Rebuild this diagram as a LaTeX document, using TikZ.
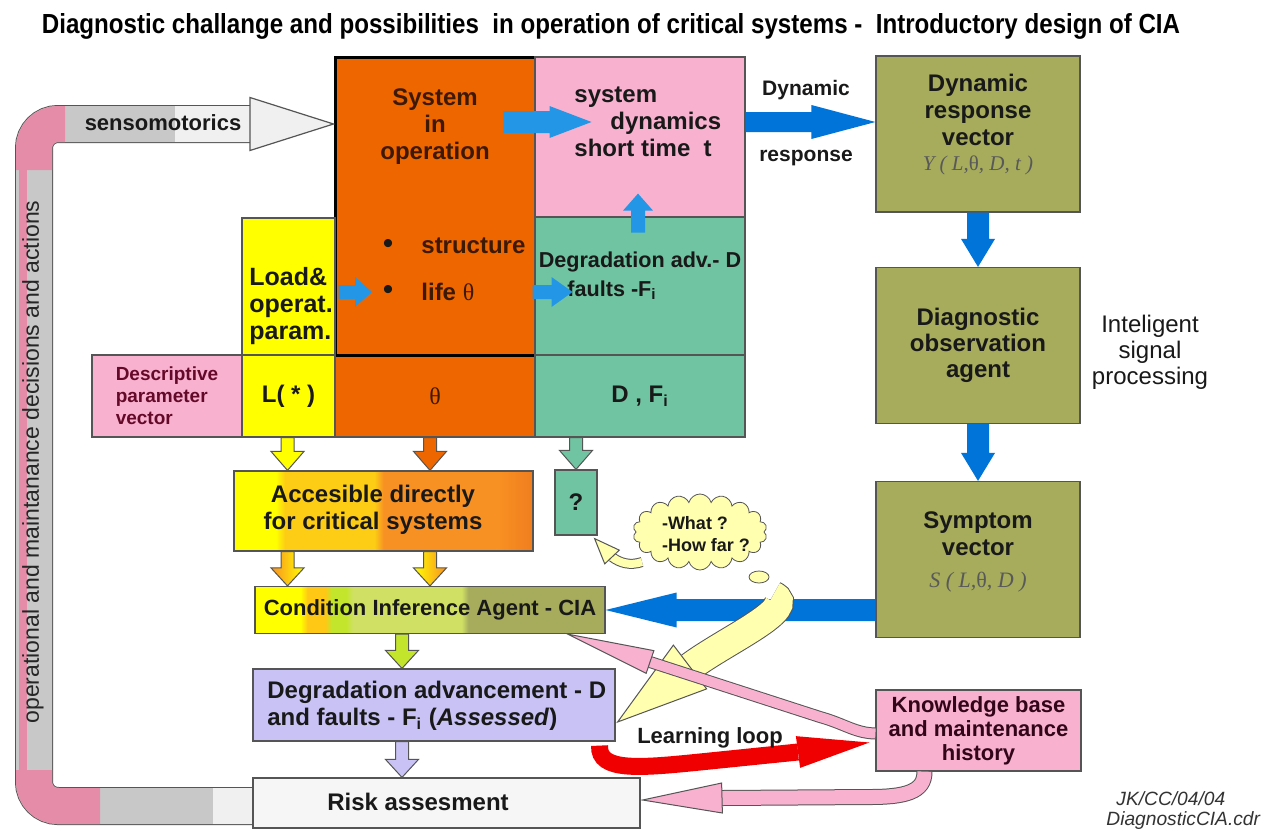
\documentclass[tikz,border=0pt]{standalone}
\usepackage{fontspec}
\setmainfont{Liberation Sans}
\newfontfamily\timesf{Liberation Serif}
\usepackage{graphicx}
\usetikzlibrary{calc,shapes.geometric,shapes.symbols}

\definecolor{sysorange}{RGB}{238,102,0}
\definecolor{sysbrown}{RGB}{60,25,0}
\definecolor{dynpink}{RGB}{248,178,208}
\definecolor{degteal}{RGB}{112,196,162}
\definecolor{loadyellow}{RGB}{255,255,0}
\definecolor{agentolive}{RGB}{166,172,92}
\definecolor{arrowblue}{RGB}{0,116,216}
\definecolor{lightblue}{RGB}{36,150,230}
\definecolor{assesslav}{RGB}{200,194,245}
\definecolor{riskgray}{RGB}{246,246,246}
\definecolor{cloudyellow}{RGB}{255,255,175}
\definecolor{loopred}{RGB}{240,0,0}
\definecolor{bandgray}{RGB}{200,200,200}
\definecolor{bandpink}{RGB}{228,140,168}
\definecolor{bandlight}{RGB}{240,240,240}
\definecolor{edgegray}{RGB}{85,85,85}
\definecolor{maroon}{RGB}{100,10,40}
\definecolor{kbtext}{RGB}{50,5,25}
\definecolor{accgold}{RGB}{252,205,20}
\definecolor{accorange}{RGB}{248,145,35}
\definecolor{accdeep}{RGB}{240,125,30}
\definecolor{ciaamber}{RGB}{255,200,20}
\definecolor{ciagreen}{RGB}{195,230,45}
\definecolor{cialime}{RGB}{208,224,100}

% shadings: the path covers 25bp..75bp
\pgfdeclarehorizontalshading{accshade}{100bp}{color(0bp)=(loadyellow); color(32bp)=(loadyellow); color(33.5bp)=(accgold); color(48.5bp)=(accgold); color(50bp)=(accorange); color(69bp)=(accorange); color(75bp)=(accdeep); color(100bp)=(accdeep)}
\pgfdeclarehorizontalshading{ciashade}{100bp}{color(0bp)=(loadyellow); color(31.5bp)=(loadyellow); color(32.5bp)=(ciaamber); color(35bp)=(ciaamber); color(36bp)=(ciagreen); color(38bp)=(ciagreen); color(39bp)=(cialime); color(54.5bp)=(cialime); color(55.5bp)=(agentolive); color(100bp)=(agentolive)}

% fat arrow: [style]{from}{tip}{shaft half width}{head half width}{head length}
\newcommand{\fatarrow}[6][]{%
  \coordinate (fa-s) at (#2);
  \coordinate (fa-t) at (#3);
  \coordinate (fa-h) at ($(fa-t)!#6!(fa-s)$);
  \path[#1] ($(fa-s)!#4!90:(fa-t)$) -- ($(fa-h)!#4!90:(fa-t)$) -- ($(fa-h)!#5!90:(fa-t)$)
    -- (fa-t) -- ($(fa-h)!#5!-90:(fa-t)$) -- ($(fa-h)!#4!-90:(fa-t)$) -- ($(fa-s)!#4!-90:(fa-t)$) -- cycle;}
% arrow head only: [style]{base}{tip}{half width}
\newcommand{\fathead}[4][]{%
  \coordinate (fh-b) at (#2);
  \coordinate (fh-t) at (#3);
  \path[#1] ($(fh-b)!#4!90:(fh-t)$) -- (fh-t) -- ($(fh-b)!#4!-90:(fh-t)$) -- cycle;}

\tikzset{
  box/.style={draw=edgegray, line width=0.6pt, inner sep=0pt, align=center,
    font=\bfseries\fontsize{12}{13}\selectfont, text=black!90},
  greenbox/.style={box, fill=agentolive, minimum width=102pt, minimum height=78pt},
  txt/.style={inner sep=0pt, align=center, font=\bfseries\fontsize{12}{13.5}\selectfont, text=black!90},
  formula/.style={inner sep=0pt, text=black!65, font=\timesf\itshape\fontsize{10.5}{12}\selectfont},
  outarrow/.style={draw=edgegray, line width=0.5pt},
  band/.style={double distance=#1, draw=edgegray, line width=0.5pt},
}

\begin{document}
\begin{tikzpicture}[x=0.5pt, y=-0.5pt]
\fill[white] (0,0) rectangle (1268,830);
\useasboundingbox (0,0) rectangle (1268,830);

\node[inner sep=0pt, anchor=base] (title) at (611,33)
  {\resizebox{569pt}{10pt}{\bfseries Diagnostic challange and possibilities\ \ in operation of critical systems -\ \ Introductory design of CIA}};

% central block
\node[box, fill=sysorange, minimum width=100pt, minimum height=41pt, text=sysbrown] (thetarow) at (435,396) {\timesf\mdseries θ};
\node[box, fill=sysorange, draw=black, line width=1.5pt, minimum width=100pt, minimum height=149pt] (sysop) at (435,206) {};
\node[box, fill=dynpink, minimum width=105pt, minimum height=80pt] (sysdyn) at (640,137) {};
\node[box, fill=degteal, minimum width=105pt, minimum height=69pt] (degr) at (640,286) {};
\node[box, fill=degteal, minimum width=105pt, minimum height=41pt] (dfrow) at (640,396) {D , F\textsubscript{i}};
\node[box, fill=loadyellow, minimum width=46.5pt, minimum height=68.5pt] (load) at (288.5,286.5) {};
\node[box, fill=loadyellow, minimum width=46.5pt, minimum height=41pt] (lrow) at (288.5,396) {L( * )};
\node[box, fill=dynpink, minimum width=75pt, minimum height=41pt, align=left, text=maroon,
  font=\bfseries\fontsize{9.5}{11}\selectfont] (descr) at (167,396) {Descriptive\\parameter\\vector};

\node[txt, text=sysbrown] (sysoptxt) at (435,127) {System\\in\\operation};
\node[txt, font=\fontsize{15}{15}\selectfont] (bul1) at (388,246) {\textbullet};
\node[txt, font=\fontsize{15}{15}\selectfont] (bul2) at (388,292) {\textbullet};
\node[txt, anchor=west, text=sysbrown] (struct) at (421,246) {structure};
\node[txt, anchor=west, text=sysbrown] (life) at (421,292) {life {\timesf\mdseries θ}};
\node[txt, align=left, anchor=west] (sysdyntxt) at (574,122) {system\\\hspace*{18pt}dynamics\\short time\ \ t};
\node[txt, font=\bfseries\fontsize{10.8}{13}\selectfont] (degrtxt) at (640,262) {Degradation adv.- D};
\node[txt, font=\bfseries\fontsize{10.8}{13}\selectfont] (faulttxt) at (612,290) {faults -F\textsubscript{i}};
\node[txt, align=left, anchor=west, font=\bfseries\fontsize{12.5}{13.5}\selectfont] (loadtxt) at (249,306) {Load\&\\operat.\\param.};

% right column
\node[greenbox] (dynresp) at (978,134) {};
\node[txt] (dynresptxt) at (978,110) {Dynamic\\response\\vector};
\node[formula] (yvec) at (978,165) {Y ( L,{\upshape θ}, D, t )};
\node[greenbox] (diagobs) at (978,345.5) {Diagnostic\\observation\\agent};
\node[greenbox] (sympt) at (978,559.5) {};
\node[txt] (sympttxt) at (978,534) {Symptom\\vector};
\node[formula, font=\timesf\itshape\fontsize{11}{12}\selectfont] (svec) at (978,582) {S ( L,{\upshape θ}, D )};
\node[txt, font=\fontsize{12}{13}\selectfont] (isp) at (1150,352) {Inteligent\\signal\\processing};
\node[txt, font=\bfseries\fontsize{10.5}{12}\selectfont] (dynlbl) at (806,90) {Dynamic};
\node[txt, font=\bfseries\fontsize{10.5}{12}\selectfont] (resplbl) at (806,158) {response};

% feedback band
\coordinate (bandend) at (253,806);
\coordinate (senshead) at (250,124);
\draw[edgegray, line width=19pt, rounded corners=12pt] (bandend) -- (34,806) -- (34,124) -- (senshead);
\draw[bandgray, line width=18pt, rounded corners=12pt] (bandend) -- (34,806) -- (34,124) -- (senshead);
\draw[bandpink, line width=18pt, rounded corners=12pt] (100,806) -- (34,806) -- (34,770);
\draw[bandpink, line width=18pt, rounded corners=12pt] (34,170) -- (34,124) -- (65,124);
\draw[bandpink, line width=4pt] (23,770) -- (23,170);
\draw[bandlight, line width=18pt] (213,806) -- (bandend);
\draw[bandlight, line width=18pt] (175,124) -- (senshead);
\fathead[fill=bandlight, draw=edgegray, line width=0.6pt]{senshead}{sysop.west |- senshead}{13.25pt}
\node[txt, font=\bfseries\fontsize{11}{12}\selectfont] (sensotxt) at (163,123) {sensomotorics};
\node[rotate=90, inner sep=0pt, text=black!85, font=\fontsize{11.5}{12}\selectfont] (bandtxt) at (33,462)
  {operational and maintanance decisions and actions};

% lower chain
\node[box, shade, shading=accshade, minimum width=149.5pt, minimum height=40pt] (access) at (383.5,511) {};
\node[txt] (accesstxt) at (373,510) {Accesible directly\\for critical systems};
\node[box, fill=degteal, minimum width=21pt, minimum height=32.5pt] (qbox) at (576,502.5) {?};
\node[box, shade, shading=ciashade, minimum width=175pt, minimum height=23.5pt,
  font=\bfseries\fontsize{11}{13}\selectfont] (cia) at (430,610) {Condition Inference Agent - CIA};
\node[box, fill=assesslav, minimum width=181pt, minimum height=36pt] (degass) at (434,705) {};
\node[txt, align=left, anchor=west] (degasstxt) at (267,706) {Degradation advancement - D\\and faults - F\textsubscript{i} (\textit{Assessed})};
\node[box, fill=riskgray, minimum width=193.5pt, minimum height=25pt] (risk) at (446.5,803) {};
\node[txt] (risktxt) at (418,802) {Risk assesment};
\node[box, fill=dynpink, minimum width=102.5pt, minimum height=40.5pt, text=kbtext,
  font=\bfseries\fontsize{11}{12}\selectfont] (kb) at (978.5,730.5) {Knowledge base\\and maintenance\\history};

% thought bubble
\node[cloud, cloud puffs=18, aspect=1.75, draw=edgegray, fill=cloudyellow, minimum width=67pt,
  minimum height=38pt, inner sep=0pt] (bubble) at (700,532) {};
\node[txt, align=left, font=\bfseries\fontsize{9}{11}\selectfont] (bubbletxt) at (706,534) {-What ?\\-How far ?};
\node[ellipse, draw=edgegray, fill=cloudyellow, minimum width=10pt, minimum height=6pt, inner sep=0pt] (bubbletail) at (759,577) {};

% blue arrows
\fatarrow[fill=lightblue]{$(sysop.east |- sysdyntxt)+(-33,0)$}{$(sysop.east |- sysdyntxt)+(55,0)$}{5.5pt}{8pt}{21pt}
\fatarrow[fill=arrowblue]{sysdyn.east |- sysdyntxt}{dynresp.west |- sysdyntxt}{5pt}{8.5pt}{32pt}
\fatarrow[fill=lightblue]{$(load.east |- life)+(3,0)$}{$(bul2)+(-16,0)$}{3.5pt}{7.5pt}{8.5pt}
\fatarrow[fill=lightblue]{$(sysop.east |- life)+(-4,0)$}{$(sysop.east |- life)+(36,0)$}{3.5pt}{7.5pt}{10.5pt}
\fatarrow[fill=lightblue]{$(sysdyn.south)+(-2,15)$}{$(sysdyn.south)+(-2,-24)$}{3.5pt}{7.5pt}{8.5pt}
\fatarrow[fill=arrowblue]{dynresp.south}{diagobs.north}{5.5pt}{8.5pt}{14pt}
\fatarrow[fill=arrowblue]{diagobs.south}{sympt.north}{5.5pt}{8.5pt}{14pt}
\fatarrow[fill=arrowblue]{sympt.west |- cia}{cia.east}{5.5pt}{8.75pt}{35.5pt}

% outlined block arrows
\fatarrow[fill=loadyellow, outarrow]{$(lrow.south)+(-1,0)$}{$(lrow.south |- access.north)+(-1,0)$}{3.25pt}{8.25pt}{9.5pt}
\fatarrow[fill=sysorange, outarrow]{$(thetarow.south)+(-5,0)$}{$(thetarow.south |- access.north)+(-5,0)$}{3.25pt}{8.25pt}{9.5pt}
\fatarrow[fill=degteal, outarrow]{dfrow.south -| qbox}{qbox.north}{3.25pt}{8.25pt}{9.5pt}
\fatarrow[left color=accorange, right color=loadyellow, outarrow]{$(access.south -| lrow)+(-1,0)$}{$(cia.north -| lrow)+(-1,0)$}{3.25pt}{8.25pt}{9pt}
\fatarrow[left color=loadyellow, right color=accorange, outarrow]{$(access.south -| thetarow)+(-5,0)$}{$(cia.north -| thetarow)+(-5,0)$}{3.25pt}{8.25pt}{9pt}
\fatarrow[fill=ciagreen, outarrow]{$(cia.south)+(-28,0)$}{$(degass.north)+(-32,0)$}{3.25pt}{8.25pt}{9pt}
\fatarrow[fill=assesslav, outarrow]{$(degass.south)+(-32,0)$}{$(risk.north)+(-44.5,0)$}{3.25pt}{8.25pt}{9pt}

% bubble pointers
\coordinate (qhead) at (612,557);
\draw[band=4pt, double=cloudyellow] ($(bubble.center)+(-58,30)$) .. controls (630,566) and (620,563) .. (qhead);
\fathead[fill=cloudyellow, draw=edgegray, line width=0.5pt]{qhead}{$(qbox.south east)+(-3,3)$}{5pt}
\coordinate (ybase) at (690,667);
\draw[band=14pt, double=cloudyellow] ($(bubbletail.south)+(14,12)$) .. controls (800,608) and (726,640) .. (ybase);
\fathead[fill=cloudyellow, draw=edgegray, line width=0.5pt]{ybase}{$(degass.east)+(2,17)$}{13.75pt}

% knowledge base links
\coordinate (kbcia) at (650,662);
\draw[band=5pt, double=dynpink] ($(kb.west)+(0,3)$) .. controls (855,733) and (845,724) .. (820,717) -- (kbcia);
\fathead[fill=dynpink, draw=edgegray, line width=0.5pt]{kbcia}{$(cia.south east)+(-38,0)$}{6pt}
\coordinate (riskhead) at (722,798);
\draw[band=7pt, double=dynpink] ($(kb.south west)+(49,0)$) .. controls (925,792) and (905,797) .. (870,797) -- (riskhead);
\fathead[fill=dynpink, draw=edgegray, line width=0.5pt]{riskhead}{$(risk.east)+(2,-3)$}{7.5pt}
\coordinate (loophead) at (798,752);
\draw[loopred, line width=8.5pt] ($(degass.south east)+(-16,4)$) .. controls (598,772) and (640,768) .. (700,762) -- (loophead);
\fathead[fill=loopred]{loophead}{$(kb.west)+(-6,12)$}{8pt}
\node[txt, font=\bfseries\fontsize{11}{12}\selectfont] (looplbl) at (710,738) {Learning loop};

\node[anchor=base west, inner sep=0pt, text=black!80, font=\itshape\fontsize{9.6}{12}\selectfont] (footer1) at (1116,805) {JK/CC/04/04};
\node[anchor=base west, inner sep=0pt, text=black!80, font=\itshape\fontsize{9.6}{12}\selectfont] (footer2) at (1106,825) {DiagnosticCIA.cdr};
\end{tikzpicture}
\end{document}
